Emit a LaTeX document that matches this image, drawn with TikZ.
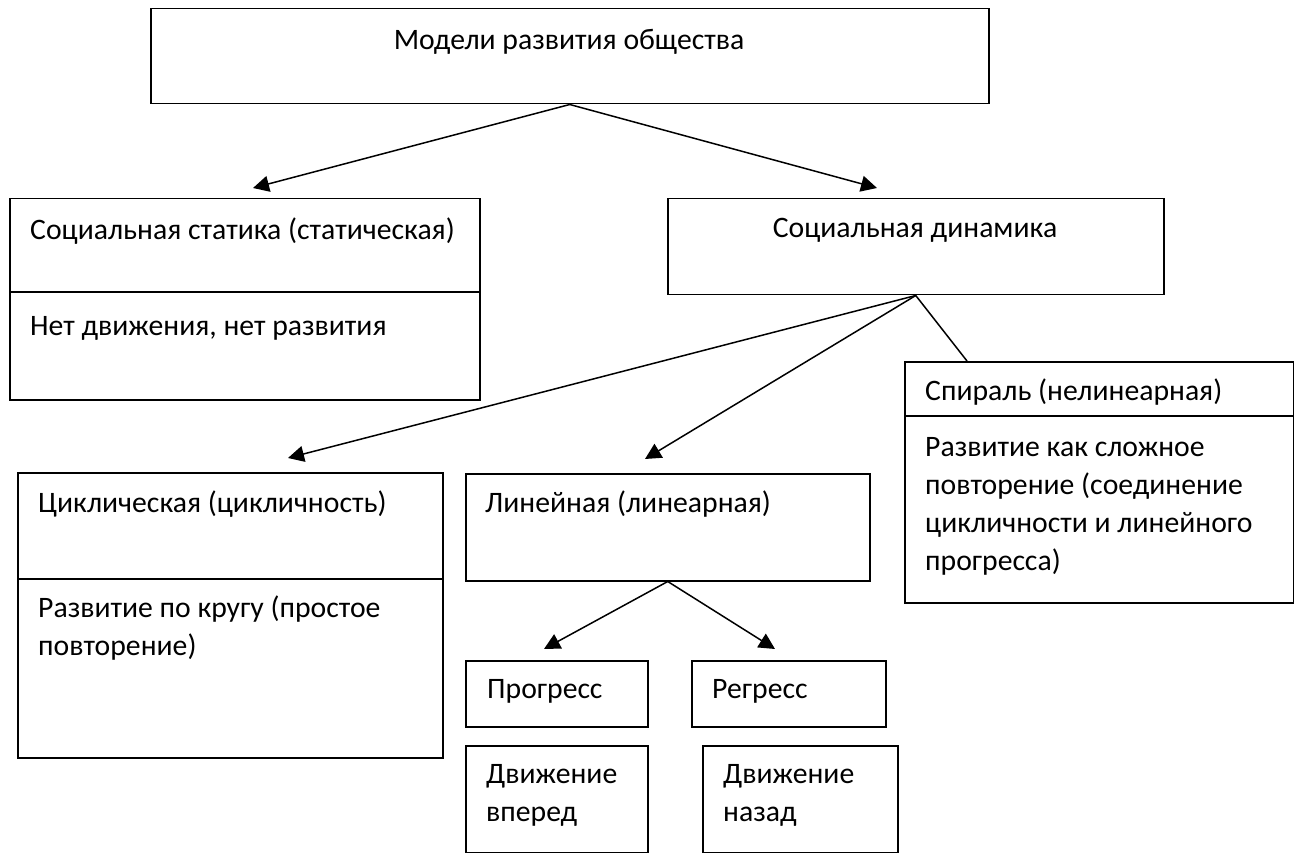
\documentclass[tikz,border=0pt]{standalone}
\usepackage{fontspec}
\setmainfont{Carlito}
\usetikzlibrary{arrows.meta}
\begin{document}
\begin{tikzpicture}[x=1pt,y=-1pt,
  box/.style={draw, line width=1.5pt, rectangle, anchor=north west, inner sep=0pt},
  ln/.style={line width=1.5pt},
  arr/.style={line width=1.5pt, -{Triangle[length=16pt,width=16pt]}},
  txt/.style={inner sep=0pt, font=\fontsize{29.7}{38.3}\selectfont},
  txtm/.style={txt, align=left, anchor=north west}]
\useasboundingbox (0,0) rectangle (1294,853);
% boxes
\node[box, minimum width=838pt, minimum height=95pt] (top) at (150,8) {};
\node[box, minimum width=470pt, minimum height=201pt] (stat) at (9,198) {};
\node[box, minimum width=496pt, minimum height=96pt] (dyn) at (667,198) {};
\node[box, minimum width=389pt, minimum height=241pt] (spir) at (904,361) {};
\node[box, minimum width=425pt, minimum height=285pt] (cyc) at (17,472) {};
\node[box, minimum width=404pt, minimum height=107pt] (lin) at (465,473) {};
\node[box, minimum width=182pt, minimum height=66pt] (prog) at (465,660) {};
\node[box, minimum width=194pt, minimum height=66pt] (reg) at (691,660) {};
\node[box, minimum width=182pt, minimum height=107pt] (fwd) at (465,745) {};
\node[box, minimum width=195pt, minimum height=107pt] (back) at (702,745) {};
% dividers
\draw[ln] (stat.west |- 0,292) -- (stat.east |- 0,292);
\draw[ln] (spir.west |- 0,416) -- (spir.east |- 0,416);
\draw[ln] (cyc.west |- 0,579) -- (cyc.east |- 0,579);
% arrow ends
\coordinate (e1) at (253,188);
\coordinate (e2) at (877,188);
\coordinate (e3) at (288,458);
\coordinate (e4) at (645,459);
\coordinate (e5) at (967,361);
\coordinate (e6) at (544,649);
\coordinate (e7) at (775,649);
\draw[arr] (top.south) -- (e1);
\draw[arr] (top.south) -- (e2);
\draw[arr] (dyn.south) -- (e3);
\draw[arr] (dyn.south) -- (e4);
\draw[ln] (dyn.south) -- (e5);
\draw[arr] (lin.south) -- (e6);
\draw[arr] (lin.south) -- (e7);
% texts
\node[txt, anchor=base] (ttop) at (569,50) {Модели развития общества};
\node[txt, anchor=base west] (tstat) at (30,240) {Социальная статика (статическая)};
\node[txt, anchor=base west] (tstat2) at (30,335) {Нет движения, нет развития};
\node[txt, anchor=base] (tdyn) at (915,238) {Социальная динамика};
\node[txt, anchor=base west] (tspir) at (925,400) {Спираль (нелинеарная)};
\node[txtm] (tspir2) at (925,429) {\strut Развитие как сложное\\повторение (соединение\\цикличности и линейного\\прогресса)};
\node[txt, anchor=base west] (tcyc) at (38,512) {Циклическая (цикличность)};
\node[txtm] (tcyc2) at (38,590) {\strut Развитие по кругу (простое\\повторение)};
\node[txt, anchor=base west] (tlin) at (485,512) {Линейная (линеарная)};
\node[txt, anchor=base west] (tprog) at (487,698) {Прогресс};
\node[txt, anchor=base west] (treg) at (712,698) {Регресс};
\node[txtm] (tfwd) at (486,756) {\strut Движение\\вперед};
\node[txtm] (tback) at (723,756) {\strut Движение\\назад};
\end{tikzpicture}
\end{document}
